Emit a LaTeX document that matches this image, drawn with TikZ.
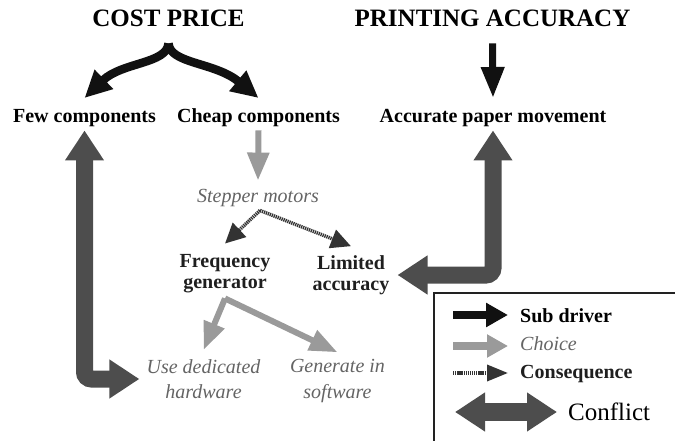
\documentclass[tikz,border=0pt]{standalone}
\usepackage{fontspec}
\setmainfont{Liberation Serif}
\usetikzlibrary{arrows.meta}

\definecolor{subcol}{HTML}{111111}
\definecolor{choicecol}{HTML}{9A9A9A}
\definecolor{conseqcol}{HTML}{333333}
\definecolor{conflictcol}{HTML}{4D4D4D}
\definecolor{optiontext}{HTML}{646464}
\definecolor{frame}{HTML}{222222}

\begin{document}
\begin{tikzpicture}[x=1pt,y=-1pt,
  title/.style={font=\fontsize{25}{28}\selectfont\bfseries, inner sep=0pt, anchor=base},
  driver/.style={font=\fontsize{20}{21}\selectfont\bfseries, align=center, inner sep=3pt},
  option/.style={font=\fontsize{20}{25.5}\selectfont\itshape, text=optiontext, align=center, inner sep=3pt},
  legendtext/.style={font=\fontsize{20}{22}\selectfont, anchor=base west, inner sep=0pt},
  subarrow/.style={draw=subcol, line width=7pt, -{Triangle[length=31pt,width=22pt]}},
  forkarrow/.style={draw=subcol, line width=8.5pt, line join=round, -{Triangle[length=27pt,width=25pt]}},
  choicearrow/.style={draw=choicecol, line width=6pt, -{Triangle[length=28pt,width=21pt]}},
  conseqarrow/.style={draw=conseqcol, line width=3.5pt, dash pattern=on 1.3pt off 0.8pt,
    -{Triangle[length=20pt,width=19pt]}},
  conflictarrow/.style={draw=conflictcol, line width=17pt, rounded corners=7pt,
    {Triangle[length=30pt,width=37pt]}-{Triangle[length=30pt,width=37pt]}},
]
\useasboundingbox (0,0) rectangle (675,441);

% drivers
\node[title] (cost) at (168.5,27) {COST PRICE};
\node[title] (printing) at (492.5,27) {PRINTING ACCURACY};

% sub drivers
\node[driver, anchor=base] (few) at (84.5,123) {Few components};
\node[driver, anchor=base] (cheap) at (258.5,123) {Cheap components};
\node[driver, anchor=base] (acc) at (493,123) {Accurate paper movement};

% choices and consequences
\node[option, anchor=base] (stepper) at (258,203) {Stepper motors};
\node[driver, text=conseqcol!60!black] (freq) at (225,274) {Frequency\\generator};
\node[driver, text=conseqcol!60!black] (lim) at (351,275) {Limited\\accuracy};
\node[option] (hw) at (203.5,379) {Use dedicated\\hardware};
\node[option] (sw) at (337.5,381) {Generate in\\software};

% sub driver arrows
\draw[forkarrow] ([yshift=-16pt]cost.south) .. controls (167,64) and (122,62) .. (few |- 0,98);
\draw[forkarrow] ([yshift=-16pt]cost.south) .. controls (170,64) and (215,62) .. (cheap |- 0,98);
\draw[subarrow] ([yshift=-16pt]printing.south) -- (acc |- 0,98);

% choice arrows
\draw[choicearrow] (cheap.south) -- ([yshift=6pt]stepper.north);
\draw[choicearrow] ([yshift=-2pt]freq.south) -- ([yshift=6pt]hw.north);
\draw[choicearrow] ([yshift=-2pt]freq.south) -- ([yshift=4pt]sw.north);

% consequence arrows
\draw[conseqarrow] ([xshift=2pt]stepper.south) -- ([yshift=8pt]freq.north);
\draw[conseqarrow] ([xshift=2pt]stepper.south) -- ([yshift=6pt]lim.north);

% conflicts
\draw[conflictarrow] (few.south) |- ([xshift=-4pt]hw.west);
\draw[conflictarrow] ([xshift=5pt]lim.east) -| (acc.south);

% legend
\draw[draw=frame, line width=1.5pt] (434,441) -- (434,293) -- (675,293);
\coordinate (ls1) at (453,315); \coordinate (le1) at (508,315);
\coordinate (ls2) at (453,346); \coordinate (le2) at (508,346);
\coordinate (ls3) at (453,373); \coordinate (le3) at (508,373);
\coordinate (ls4) at (455,412); \coordinate (le4) at (557,412);
\draw[draw=subcol, line width=8pt, -{Triangle[length=22pt,width=23pt]}] (ls1) -- (le1);
\draw[draw=choicecol, line width=8pt, -{Triangle[length=21pt,width=22pt]}] (ls2) -- (le2);
\draw[draw=conseqcol, line width=3.5pt, dash pattern=on 1.3pt off 0.8pt,
  -{Triangle[length=21pt,width=16pt]}] (ls3) -- (le3);
\draw[draw=conflictcol, line width=18pt,
  {Triangle[length=30pt,width=37pt]}-{Triangle[length=30pt,width=37pt]}] (ls4) -- (le4);
\node[legendtext, font=\fontsize{20}{22}\selectfont\bfseries] (lt1) at (520,322) {Sub driver};
\node[legendtext, font=\fontsize{20}{22}\selectfont\itshape, text=optiontext] (lt2) at (520,350) {Choice};
\node[legendtext, font=\fontsize{20}{22}\selectfont\bfseries, text=conseqcol!60!black] (lt3) at (520,378) {Consequence};
\node[legendtext, font=\fontsize{25}{28}\selectfont] (lt4) at (568,420) {Conflict};
\end{tikzpicture}
\end{document}
